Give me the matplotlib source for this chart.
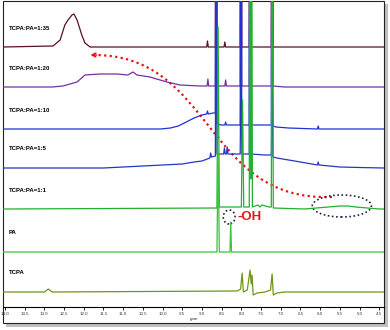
import numpy as np
import matplotlib
matplotlib.use("Agg")
import matplotlib.pyplot as plt
from matplotlib.patches import Ellipse, PathPatch, Rectangle
from matplotlib.path import Path

plt.rcParams['font.family'] = ['Liberation Sans', 'DejaVu Sans']

# spectra: (ppm, intensity), intensity in pixels above baseline
TOP = 400  # peaks that run off the top of the frame

spec_135 = [(14.05, 0), (12.78, 1), (12.60, 7), (12.48, 22), (12.40, 27), (12.30, 32),
            (12.25, 33), (12.17, 27), (12.05, 12), (11.97, 4), (11.84, 0),
            (8.88, 0), (8.86, 6), (8.84, 0), (8.66, 0), (8.64, TOP), (8.62, 0),
            (8.44, 0), (8.42, 5), (8.40, 0), (8.03, 0), (8.01, TOP), (7.99, 0),
            (7.80, 0), (7.78, TOP), (7.76, 0), (7.24, 0), (7.22, TOP), (7.20, 0), (4.38, 0)]

spec_120 = [(14.05, 0), (12.80, 0), (12.53, 1), (12.17, 5), (11.97, 12), (11.59, 13),
            (11.16, 13), (10.88, 12), (10.75, 15), (10.65, 12), (10.32, 10), (9.89, 5),
            (9.56, 2), (9.05, 1), (8.87, 1), (8.85, 8), (8.83, 1), (8.66, 1), (8.64, TOP),
            (8.62, 1), (8.42, 1), (8.40, 7), (8.38, 1), (8.03, 1), (8.01, TOP), (7.99, 1),
            (7.80, 1), (7.78, TOP), (7.76, 1), (7.24, 1), (7.22, TOP), (7.20, 1),
            (6.90, 0), (4.38, 0)]

spec_110 = [(14.05, 0), (10.05, 0), (9.80, 1), (9.60, 3), (9.40, 7), (9.20, 11), (9.00, 14),
            (8.88, 15), (8.86, 18), (8.84, 15), (8.72, 16), (8.66, 16), (8.64, TOP),
            (8.62, 5), (8.50, 4), (8.42, 4), (8.40, 7), (8.38, 4), (8.10, 4), (8.03, 4),
            (8.01, TOP), (7.99, 4), (7.80, 4), (7.78, TOP), (7.76, 4), (7.30, 4), (7.24, 4),
            (7.22, TOP), (7.20, 3), (7.12, 2), (6.80, 1), (6.07, 0), (6.05, 3), (6.03, 0),
            (4.38, 0)]

spec_15 = [(14.05, 0), (11.50, 0), (11.00, 1), (10.50, 2), (10.00, 3), (9.50, 4), (9.20, 6),
           (9.00, 7), (8.80, 10), (8.78, 15), (8.76, 11), (8.66, 12), (8.64, TOP),
           (8.62, 14), (8.45, 14), (8.43, 20), (8.41, 14), (8.38, 14), (8.36, 21),
           (8.34, 14), (8.20, 14), (8.03, 14), (8.01, 111), (7.99, 14), (7.80, 14),
           (7.78, TOP), (7.76, 14), (7.40, 13), (7.24, 13), (7.22, 115), (7.20, 11),
           (7.10, 10), (6.80, 8), (6.50, 6), (6.07, 3), (6.05, 6), (6.03, 3), (5.50, 1),
           (5.00, 0.5), (4.38, 0)]

spec_11 = [(14.05, 0), (8.62, 1), (8.59, 182), (8.56, 2), (8.00, 2), (7.97, 109), (7.94, 2),
           (7.80, 2), (7.78, TOP), (7.76, 30), (7.74, TOP), (7.72, 2), (7.58, 4), (7.53, 2),
           (7.48, 4), (7.30, 2), (7.24, 2), (7.22, TOP), (7.19, 1), (6.40, 0), (6.10, 1),
           (5.80, 2), (5.50, 3), (5.30, 3), (5.10, 2), (4.80, 1), (4.50, 0), (4.38, 0)]

spec_pa = [(14.05, 0), (8.62, 0), (8.59, 100), (8.56, 0), (8.29, 0), (8.27, 30), (8.25, 0),
           (4.38, 0)]

spec_tcpa = [(14.05, 0), (13.00, 0), (12.90, 3), (12.80, 0), (8.10, 1), (8.02, 3), (7.98, 19),
             (7.95, 0), (7.85, 2), (7.78, 22), (7.75, 8), (7.73, 17), (7.70, -3), (7.60, -1),
             (7.40, 0), (7.26, 2), (7.22, 18), (7.19, -3), (7.10, -1), (6.90, 0), (4.38, 0)]

labels = ["TCPA:PA=1:35", "TCPA:PA=1:20", "TCPA:PA=1:10", "TCPA:PA=1:5",
          "TCPA:PA=1:1", "PA", "TCPA"]
spectra = [spec_135, spec_120, spec_110, spec_15, spec_11, spec_pa, spec_tcpa]
colors = ["#5a1020", "#7430a0", "#2030d8", "#2436c4", "#22b030", "#3cc43c", "#6e9618"]
offsets = [260, 220, 178, 139, 98, 55, 15]

W, H = 390, 330
fig = plt.figure(figsize=(W / 100, H / 100), dpi=100)
fig.patch.set_facecolor("white")

# outer frame with shadow (pixel coords from the top-left)
def fig_rect(x0, y0, x1, y1, **kw):
    return Rectangle((x0 / W, 1 - y1 / H), (x1 - x0) / W, (y1 - y0) / H,
                     transform=fig.transFigure, **kw)

fig.add_artist(fig_rect(6, 4, 388, 327, facecolor="#c0c0c0", edgecolor="none", zorder=0))
fig.add_artist(fig_rect(3, 1, 384, 323, facecolor="white", edgecolor="#222222",
                        linewidth=0.8, zorder=1))

ax = fig.add_axes([3 / W, (H - 307) / H, 381 / W, 306 / H])
ax.set_facecolor("none")
ax.set_zorder(2)

for spec, c, off, lab in zip(spectra, colors, offsets, labels):
    x, y = zip(*spec)
    ax.plot(x, np.array(y) + off, color=c, lw=0.9)
    ax.text(13.9, off + 19, lab, fontsize=4.3, fontweight="bold", ha="left", va="center")

ax.set_xlim(14.05, 4.38)
ax.set_ylim(0, 306)
for s in ["left", "right", "top"]:
    ax.spines[s].set_visible(False)
ax.spines["bottom"].set_linewidth(0.8)
ax.set_yticks([])
ticks = np.arange(14.0, 4.4, -0.5)
ax.set_xticks(ticks)
ax.set_xticklabels(["%.1f" % t for t in ticks])
ax.tick_params(axis="x", labelsize=3.2, length=2, width=0.6, pad=1.5, labelcolor="#333333")
ax.set_xlabel("ppm", fontsize=3.2, labelpad=0.5, color="#333333")

# red dotted arrow from the broad 1:1 signal up to the 1:35 peak
verts = [(5.70, 110), (8.95, 105), (8.70, 254), (11.80, 252)]
curve = Path(verts, [Path.MOVETO, Path.CURVE4, Path.CURVE4, Path.CURVE4])
ax.add_patch(PathPatch(curve, facecolor="none", edgecolor="#ee1111", lw=1.6,
                       linestyle=(0, (1, 1.5)), clip_on=False))
ax.annotate("", xy=(11.9, 252), xytext=(11.6, 252),
            arrowprops=dict(arrowstyle="->", color="#ee1111", lw=1.0, mutation_scale=7))

# dotted ellipses
ax.add_patch(Ellipse((5.45, 101), 1.5, 22, facecolor="none", edgecolor="#222244",
                     lw=1.2, linestyle=(0, (1, 1.5))))
ax.add_patch(Ellipse((8.31, 90), 0.30, 14, facecolor="none", edgecolor="#222222",
                     lw=1.2, linestyle=(0, (1, 1.5))))
ax.text(8.09, 90, "-OH", color="#e8141c", fontsize=9.5, fontweight="bold",
        ha="left", va="center")

fig.savefig("out.png", dpi=100)
